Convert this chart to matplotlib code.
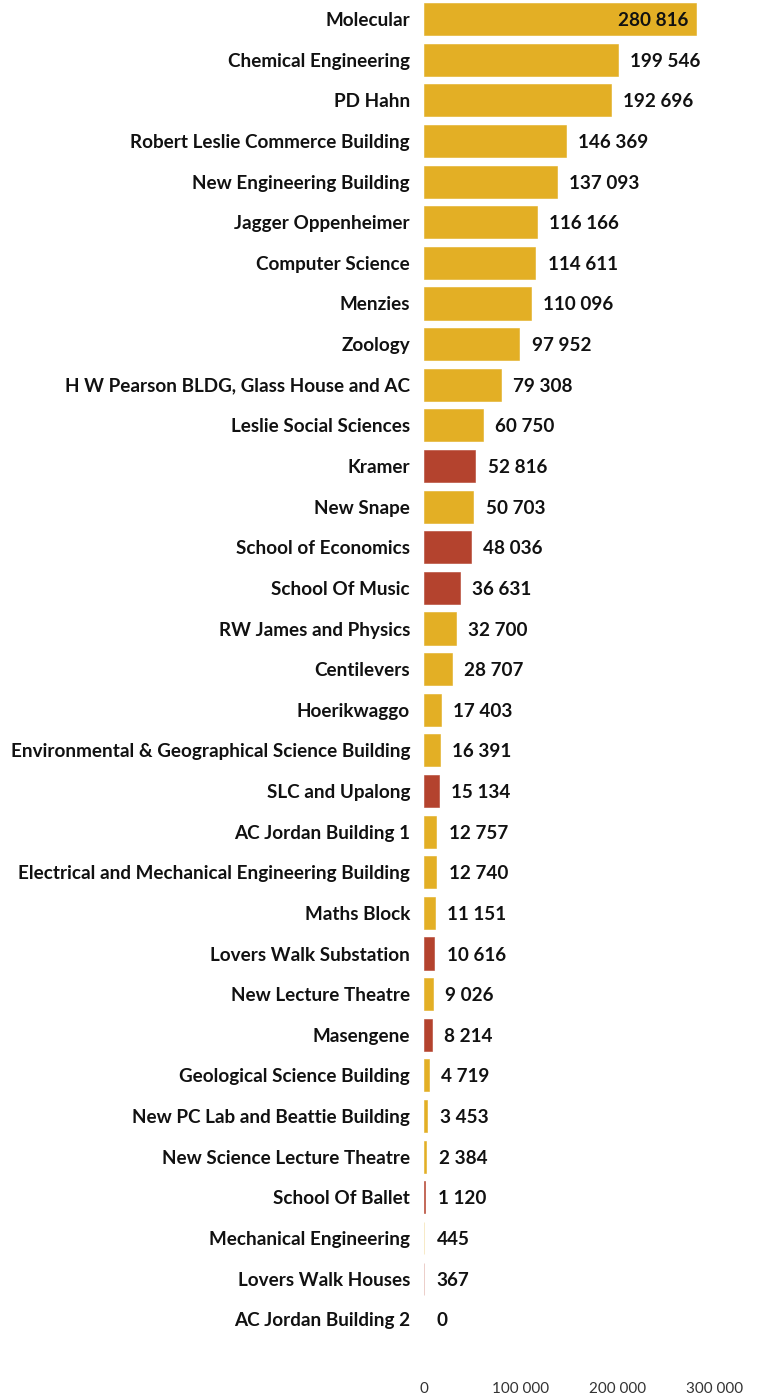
import matplotlib
matplotlib.use("Agg")
import matplotlib.pyplot as plt
from matplotlib.ticker import FuncFormatter

categories = [
    "Molecular", "Chemical Engineering", "PD Hahn", "Robert Leslie Commerce Building",
    "New Engineering Building", "Jagger Oppenheimer", "Computer Science", "Menzies",
    "Zoology", "H W Pearson BLDG, Glass House and AC", "Leslie Social Sciences", "Kramer",
    "New Snape", "School of Economics", "School Of Music", "RW James and Physics",
    "Centilevers", "Hoerikwaggo", "Environmental & Geographical Science Building",
    "SLC and Upalong", "AC Jordan Building 1", "Electrical and Mechanical Engineering Building",
    "Maths Block", "Lovers Walk Substation", "New Lecture Theatre", "Masengene",
    "Geological Science Building", "New PC Lab and Beattie Building",
    "New Science Lecture Theatre", "School Of Ballet", "Mechanical Engineering",
    "Lovers Walk Houses", "AC Jordan Building 2",
]
values = [
    280816, 199546, 192696, 146369, 137093, 116166, 114611, 110096, 97952, 79308,
    60750, 52816, 50703, 48036, 36631, 32700, 28707, 17403, 16391, 15134, 12757,
    12740, 11151, 10616, 9026, 8214, 4719, 3453, 2384, 1120, 445, 367, 0,
]
groups = [
    "a", "a", "a", "a", "a", "a", "a", "a", "a", "a", "a", "b", "a", "b", "b", "a",
    "a", "a", "a", "b", "a", "a", "a", "b", "a", "b", "a", "a", "a", "b", "a", "b", "a",
]
x_ticks = [0, 100000, 200000, 300000]

GOLD = "#E3AF25"
RED = "#B4432E"
color_map = {"a": GOLD, "b": RED}

def fmt(v):
    return f"{int(v):,}".replace(",", " ")

W, H = 764, 1395
fig = plt.figure(figsize=(W / 100, H / 100), dpi=100)
left_px, right_px = 424, 764
top_px, bottom_px = 0, 1372
ax = fig.add_axes([left_px / W, 1 - bottom_px / H, (right_px - left_px) / W, (bottom_px - top_px) / H])

FS = 13.6
y = list(range(len(categories)))
cols = [color_map[g] for g in groups]
lws = [0.4 if v > 0 else 0 for v in values]
bars = ax.barh(y, values, height=0.79, color=cols, edgecolor=cols, linewidth=lws)
for b, v in zip(bars, values):
    if v < 1000 and v > 0:
        b.set_alpha(0.45)
ax.set_xlim(0, 350500)
ax.set_ylim(33.3, -0.47)

ax.set_yticks(y)
ax.set_yticklabels(categories, fontfamily="Lato", fontweight="bold", fontsize=FS, color="#111111")
for lab in ax.get_yticklabels():
    lab.set_verticalalignment("center_baseline")
ax.tick_params(axis="y", length=0, pad=10)
ax.set_xticks(x_ticks)
ax.xaxis.set_major_formatter(FuncFormatter(lambda v, p: fmt(v)))
ax.tick_params(axis="x", length=0, pad=7, labelsize=11, labelcolor="#333333")
for lab in ax.get_xticklabels():
    lab.set_fontfamily("Lato")
for s in ax.spines.values():
    s.set_visible(False)

vmax = max(values)
for yi, v in zip(y, values):
    if v == vmax:
        ax.annotate(fmt(v), (v, yi), xytext=(-6, 0), textcoords="offset points",
                    ha="right", va="center_baseline", fontfamily="Lato", fontweight="bold",
                    fontsize=FS, color="#111111")
    else:
        ax.annotate(fmt(v), (v, yi), xytext=(9, 0), textcoords="offset points",
                    ha="left", va="center_baseline", fontfamily="Lato", fontweight="bold",
                    fontsize=FS, color="#111111")

fig.savefig("out.png", dpi=100, facecolor="white")
